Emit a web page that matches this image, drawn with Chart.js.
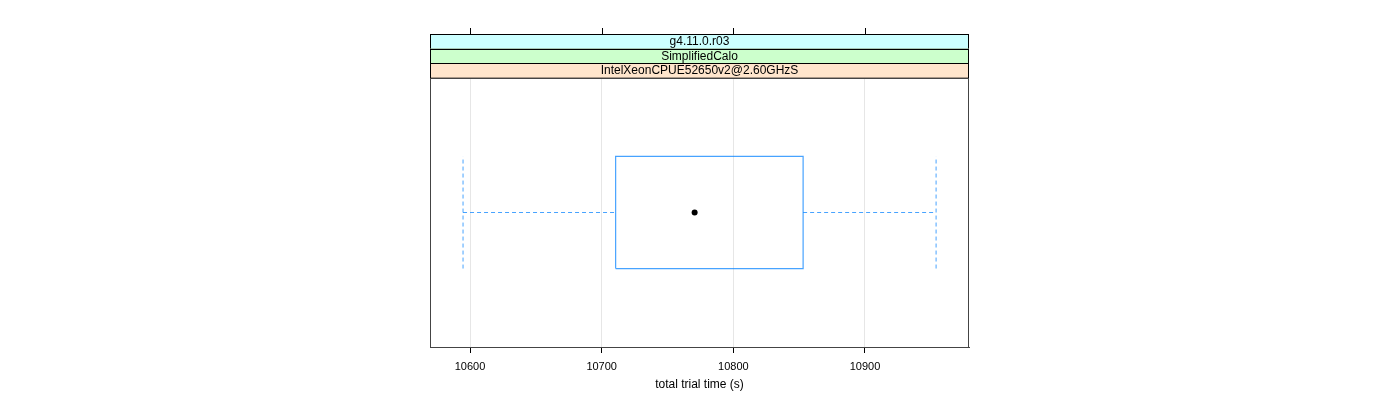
<!DOCTYPE html>
<html>
<head>
<meta charset="utf-8">
<script src="https://cdn.jsdelivr.net/npm/chart.js@4/dist/chart.umd.min.js"></script>
<style>
html,body{margin:0;padding:0;background:#fff;}
#wrap{width:1400px;height:400px;}
</style>
</head>
<body>
<div id="wrap"><canvas id="c" width="1400" height="400"></canvas></div>
<script>
// ---- data ----
const stripLabels = ["g4.11.0.r03", "SimplifiedCalo", "IntelXeonCPUE52650v2@2.60GHzS"];
const stripColors = ["#ccffff", "#ccffcc", "#ffe5cc"];
const boxStats = [10594.7, 10710.6, 10770.6, 10853.0, 10954.0]; // min, Q1, median, Q3, max
const xTicks = [10600, 10700, 10800, 10900];
const xTitle = "total trial time (s)";
const xRange = [10569.6, 10979.0];

const [wMin, q1, med, q3, wMax] = boxStats;
const LO = 0.75, HI = 1.25, MID = 1;
const boxColor = "rgba(0,128,255,0.72)";
const FONT = "'Liberation Sans', Arial, sans-serif";

const stripPlugin = {
  id: 'strips',
  afterDraw(chart) {
    const ctx = chart.ctx, a = chart.chartArea, xs = chart.scales.x;
    const h = 14.67;
    ctx.save();
    ctx.font = "12px " + FONT;
    ctx.textAlign = "center";
    ctx.textBaseline = "middle";
    for (let i = 0; i < stripLabels.length; i++) {
      const top = a.top - h * (stripLabels.length - i);
      ctx.fillStyle = stripColors[i];
      ctx.fillRect(a.left, top, a.right - a.left, h);
      ctx.strokeStyle = "#000";
      ctx.lineWidth = 1;
      ctx.strokeRect(a.left + 0.5, Math.round(top) + 0.5, a.right - a.left - 1, h);
      ctx.fillStyle = "#000";
      ctx.fillText(stripLabels[i], (a.left + a.right) / 2, top + h / 2 + 0.5);
    }
    // panel border
    ctx.strokeStyle = "#444";
    ctx.strokeRect(a.left + 0.5, a.top + 0.5, a.right - a.left - 1, a.bottom - a.top);
    // top tick marks
    const stripTop = Math.round(a.top - h * stripLabels.length);
    ctx.strokeStyle = "#000";
    ctx.beginPath();
    xTicks.forEach(t => {
      const px = Math.round(xs.getPixelForValue(t)) + 0.5;
      ctx.moveTo(px, stripTop);
      ctx.lineTo(px, stripTop - 6);
    });
    ctx.stroke();
    ctx.restore();
  }
};

const dashed = {borderDash: [4, 3], borderWidth: 1, borderColor: boxColor, pointRadius: 0, showLine: true, fill: false};

new Chart(document.getElementById('c'), {
  type: 'scatter',
  data: {
    datasets: [
      {label: 'box', data: [{x:q1,y:LO},{x:q3,y:LO},{x:q3,y:HI},{x:q1,y:HI},{x:q1,y:LO}],
        showLine: true, borderColor: boxColor, borderWidth: 1.2, pointRadius: 0, fill: false},
      Object.assign({label: 'wl', data: [{x:wMin,y:MID},{x:q1,y:MID}]}, dashed),
      Object.assign({label: 'wr', data: [{x:q3,y:MID},{x:wMax,y:MID}]}, dashed),
      Object.assign({label: 'cl', data: [{x:wMin,y:LO},{x:wMin,y:HI}]}, dashed),
      Object.assign({label: 'cr', data: [{x:wMax,y:LO},{x:wMax,y:HI}]}, dashed),
      {label: 'median', data: [{x:med,y:MID}], pointRadius: 3, pointBackgroundColor: '#000', pointBorderColor: '#000', borderWidth: 0}
    ]
  },
  options: {
    responsive: false,
    animation: false,
    events: [],
    layout: {padding: {left: 430, right: 431, top: 78, bottom: 0}},
    plugins: {legend: {display: false}, tooltip: {enabled: false}},
    scales: {
      x: {
        type: 'linear', min: xRange[0], max: xRange[1],
        afterBuildTicks: s => { s.ticks = xTicks.map(v => ({value: v})); },
        afterFit: s => { s.height = 53; },
        grid: {color: '#e6e6e6', tickColor: '#000', tickLength: 6, drawOnChartArea: true},
        border: {display: true, color: '#444'},
        ticks: {color: '#000', font: {family: FONT, size: 11}, padding: 7, maxRotation: 0, includeBounds: false,
          callback: v => String(v)},
        title: {display: true, text: xTitle, color: '#000', font: {family: FONT, size: 12}, padding: {top: 4, bottom: 8}}
      },
      y: {type: 'linear', min: 0.4, max: 1.6, display: false}
    }
  },
  plugins: [stripPlugin]
});
</script>
</body>
</html>
